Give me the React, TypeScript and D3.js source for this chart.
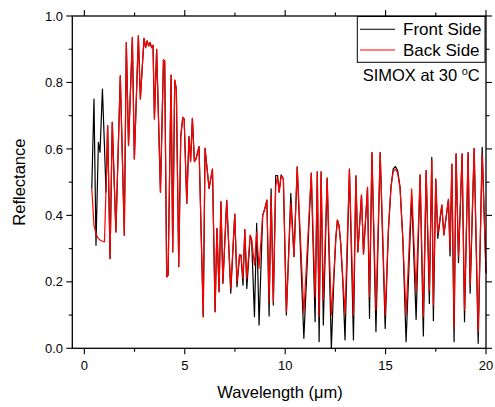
import React from 'react';
import * as d3 from 'd3';

const wavelength = [
  0.37, 0.48, 0.58, 0.70, 0.78, 0.90, 1.00, 1.08, 1.16, 1.28,
  1.39, 1.57, 1.79, 1.99, 2.09, 2.20, 2.39, 2.49, 2.69, 2.79,
  2.97, 3.05, 3.12, 3.20, 3.27, 3.35, 3.42, 3.49, 3.60, 3.79,
  3.94, 4.00, 4.10, 4.17, 4.32, 4.40, 4.50, 4.58, 4.70, 4.80,
  4.90, 4.97, 5.10, 5.21, 5.29, 5.38, 5.48, 5.56, 5.71, 5.92,
  6.01, 6.21, 6.38, 6.51, 6.60, 6.71, 6.80, 6.90, 7.09, 7.29,
  7.49, 7.60, 7.73, 7.80, 7.90, 7.99, 8.09, 8.26, 8.33, 8.47,
  8.58, 8.70, 8.88, 8.99, 9.09, 9.20, 9.30, 9.41, 9.53, 9.62,
  9.70, 9.80, 9.91, 10.06, 10.28, 10.44, 10.60, 10.93, 11.30, 11.49,
  11.60, 11.69, 11.79, 11.90, 12.09, 12.30, 12.42, 12.52, 12.60, 12.68,
  12.76, 12.87, 12.98, 13.20, 13.40, 13.52, 13.62, 13.80, 13.90, 14.10,
  14.20, 14.32, 14.52, 14.73, 14.98, 15.14, 15.27, 15.38, 15.49, 15.60,
  15.72, 15.86, 16.02, 16.30, 16.52, 16.72, 16.88, 17.02, 17.18, 17.30,
  17.38, 17.50, 17.60, 17.80, 17.90, 18.13, 18.21, 18.30, 18.41, 18.51,
  18.63, 18.81, 18.93, 19.11, 19.21, 19.41, 19.61, 19.81, 20.00,
];

const frontSide = [
  0.48, 0.75, 0.31, 0.62, 0.59, 0.78, 0.61, 0.47, 0.67, 0.27,
  0.68, 0.35, 0.82, 0.34, 0.92, 0.61, 0.935, 0.57, 0.94, 0.75,
  0.933, 0.905, 0.925, 0.91, 0.92, 0.905, 0.912, 0.69, 0.90, 0.47,
  0.868, 0.865, 0.215, 0.22, 0.822, 0.29, 0.807, 0.78, 0.246, 0.637,
  0.695, 0.69, 0.436, 0.637, 0.562, 0.692, 0.562, 0.57, 0.607, 0.095,
  0.602, 0.481, 0.539, 0.11, 0.361, 0.17, 0.441, 0.196, 0.445, 0.166,
  0.404, 0.185, 0.281, 0.28, 0.19, 0.357, 0.18, 0.34, 0.326, 0.095,
  0.376, 0.07, 0.40, 0.421, 0.446, 0.097, 0.48, 0.13, 0.52, 0.52,
  0.47, 0.522, 0.51, 0.10, 0.466, 0.276, 0.546, 0.03, 0.527, 0.08,
  0.531, 0.02, 0.531, 0.07, 0.512, 0.0, 0.2, 0.33, 0.386, 0.37,
  0.32, 0.2, 0.025, 0.539, 0.025, 0.519, 0.29, 0.461, 0.284, 0.484,
  0.09, 0.589, 0.05, 0.589, 0.06, 0.356, 0.486, 0.54, 0.547, 0.535,
  0.486, 0.326, 0.02, 0.46, 0.087, 0.522, 0.037, 0.535, 0.135, 0.575,
  0.083, 0.509, 0.331, 0.431, 0.341, 0.448, 0.278, 0.554, 0.02, 0.585,
  0.258, 0.585, 0.08, 0.589, 0.166, 0.602, 0.015, 0.605, 0.226,
];

const backSide = [
  0.48, 0.37, 0.345, 0.33, 0.326, 0.322, 0.32, 0.48, 0.67, 0.27,
  0.68, 0.35, 0.82, 0.34, 0.92, 0.61, 0.935, 0.57, 0.94, 0.75,
  0.933, 0.905, 0.925, 0.91, 0.92, 0.905, 0.912, 0.69, 0.90, 0.47,
  0.868, 0.865, 0.215, 0.22, 0.822, 0.29, 0.807, 0.78, 0.246, 0.637,
  0.695, 0.69, 0.436, 0.637, 0.562, 0.692, 0.562, 0.57, 0.607, 0.095,
  0.602, 0.481, 0.539, 0.11, 0.361, 0.17, 0.441, 0.196, 0.445, 0.18,
  0.404, 0.20, 0.281, 0.28, 0.21, 0.357, 0.21, 0.34, 0.326, 0.25,
  0.35, 0.24, 0.40, 0.421, 0.446, 0.14, 0.46, 0.14, 0.49, 0.515,
  0.47, 0.52, 0.51, 0.11, 0.436, 0.276, 0.546, 0.105, 0.527, 0.155,
  0.531, 0.095, 0.531, 0.145, 0.512, 0.10, 0.22, 0.33, 0.386, 0.37,
  0.32, 0.21, 0.105, 0.539, 0.10, 0.519, 0.29, 0.461, 0.284, 0.484,
  0.155, 0.589, 0.115, 0.589, 0.10, 0.356, 0.486, 0.532, 0.539, 0.528,
  0.48, 0.326, 0.10, 0.48, 0.17, 0.522, 0.095, 0.535, 0.175, 0.565,
  0.13, 0.509, 0.345, 0.431, 0.341, 0.448, 0.295, 0.554, 0.065, 0.585,
  0.275, 0.585, 0.115, 0.589, 0.19, 0.602, 0.05, 0.585, 0.226,
];

const xMajorTicks = [0, 5, 10, 15, 20];
const xMinorTicks = [2.5, 7.5, 12.5, 17.5];
const yMajorTicks = [0, 0.2, 0.4, 0.6, 0.8, 1.0];
const yMinorTicks = [0.1, 0.3, 0.5, 0.7, 0.9];
const seriesNames = ['Front Side', 'Back Side'];
const seriesColors = ['#000000', '#ff0000'];

const FONT = "'Liberation Sans', Arial, sans-serif";

export default function App() {
  const W = 495, H = 407;
  const L = 72.3, R = 486, T = 16, B = 348.3;
  const x = d3.scaleLinear().domain([-0.6, 20]).range([L, R]);
  const y = d3.scaleLinear().domain([0, 1]).range([B, T]);
  const line = d3.line<number>()
    .x((_, i) => x(wavelength[i]))
    .y((d) => y(d));
  const frontPath = line(frontSide) || '';
  const backPath = line(backSide) || '';
  const MAJ = 6, MIN = 3.5;

  return (
    <svg width={W} height={H} style={{ position: 'absolute', left: 0, top: 0, background: '#fff' }}>
      <rect x={0} y={0} width={W} height={H} fill="#fff" />
      <path d={frontPath} fill="none" stroke={seriesColors[0]} strokeWidth={1.2} strokeLinejoin="round" />
      <path d={backPath} fill="none" stroke={seriesColors[1]} strokeWidth={1.2} strokeLinejoin="round" />

      {/* frame */}
      <rect x={L} y={T} width={R - L} height={B - T} fill="none" stroke="#000" strokeWidth={1.3} />

      {/* bottom & top ticks */}
      {xMajorTicks.map((t) => (
        <g key={'xm' + t}>
          <line x1={x(t)} x2={x(t)} y1={B} y2={B + MAJ} stroke="#000" strokeWidth={1.1} />
          <line x1={x(t)} x2={x(t)} y1={T} y2={T - MAJ} stroke="#000" strokeWidth={1.1} />
          <text x={x(t)} y={369.5} textAnchor="middle" fontFamily={FONT} fontSize={13} fill="#000">{t}</text>
        </g>
      ))}
      {xMinorTicks.map((t) => (
        <g key={'xn' + t}>
          <line x1={x(t)} x2={x(t)} y1={B} y2={B + MIN} stroke="#000" strokeWidth={1.1} />
          <line x1={x(t)} x2={x(t)} y1={T} y2={T - MIN} stroke="#000" strokeWidth={1.1} />
        </g>
      ))}

      {/* left & right ticks */}
      {yMajorTicks.map((t) => (
        <g key={'ym' + t}>
          <line x1={L} x2={L - MAJ} y1={y(t)} y2={y(t)} stroke="#000" strokeWidth={1.1} />
          <line x1={R} x2={R + MAJ} y1={y(t)} y2={y(t)} stroke="#000" strokeWidth={1.1} />
          <text x={63} y={y(t) + 4.6} textAnchor="end" fontFamily={FONT} fontSize={13} fill="#000">{t.toFixed(1)}</text>
        </g>
      ))}
      {yMinorTicks.map((t) => (
        <g key={'yn' + t}>
          <line x1={L} x2={L - MIN} y1={y(t)} y2={y(t)} stroke="#000" strokeWidth={1.1} />
          <line x1={R} x2={R + MIN} y1={y(t)} y2={y(t)} stroke="#000" strokeWidth={1.1} />
        </g>
      ))}

      {/* axis titles */}
      <text x={280} y={398} textAnchor="middle" fontFamily={FONT} fontSize={16.5} fill="#000">Wavelength (μm)</text>
      <text transform={`translate(24.5, ${(T + B) / 2}) rotate(-90)`} textAnchor="middle" fontFamily={FONT} fontSize={16.5} fill="#000">Reflectance</text>

      {/* legend */}
      <rect x={357.3} y={16.5} width={127.7} height={45.8} fill="#fff" stroke="#000" strokeWidth={1} />
      {seriesNames.map((n, i) => (
        <g key={n}>
          <line x1={360} x2={395} y1={29.3 + i * 20.7} y2={29.3 + i * 20.7} stroke={seriesColors[i]} strokeWidth={1.1} />
          <text x={403} y={35 + i * 21} fontFamily={FONT} fontSize={17} fill="#000">{n}</text>
        </g>
      ))}
      <text x={362.7} y={81} fontFamily={FONT} fontSize={16.5} fill="#000">
        SIMOX at 30 <tspan fontSize={11} dy={-6}>o</tspan><tspan dy={6}>C</tspan>
      </text>
    </svg>
  );
}
